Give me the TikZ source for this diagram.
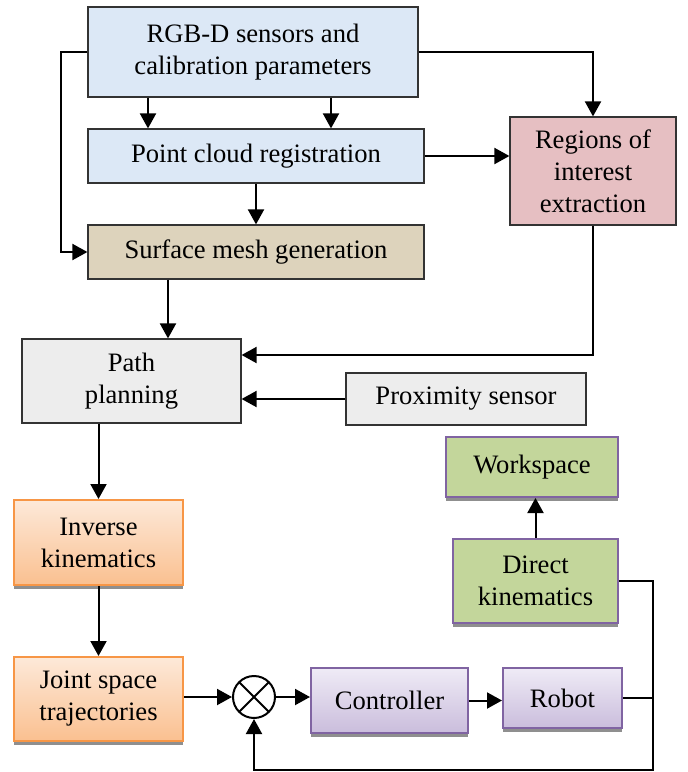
\documentclass[tikz,border=0pt]{standalone}
\usepackage{fontspec}
\setmainfont{Liberation Serif}
\usepackage{xcolor}
\usepackage{tikz}
\usetikzlibrary{arrows.meta,calc,shadows}
\definecolor{sensorblue}{HTML}{DCE8F6}
\definecolor{meshtan}{HTML}{DDD3BC}
\definecolor{roipink}{HTML}{E6BFC2}
\definecolor{plangray}{HTML}{EDEDED}
\definecolor{kinegreen}{HTML}{C3D69B}
\definecolor{kinepurple}{HTML}{8064A2}
\definecolor{ikorange}{HTML}{F79646}
\definecolor{iktop}{HTML}{FDE9D9}
\definecolor{ikbottom}{HTML}{FAC090}
\definecolor{ctrltop}{HTML}{EFEBF6}
\definecolor{ctrlbottom}{HTML}{CABDDC}

\begin{document}
\begin{tikzpicture}[
    x=0.5pt, y=-0.5pt,
    every node/.style={font=\fontsize{13.3}{16}\selectfont, align=center, inner sep=0pt},
    block/.style={rectangle, draw=black!80, line width=0.6pt},
    bluebox/.style={block, fill=sensorblue},
    tanbox/.style={block, fill=meshtan},
    pinkbox/.style={block, fill=roipink},
    graybox/.style={block, fill=plangray},
    shadowed/.style={drop shadow={shadow xshift=0pt, shadow yshift=-2pt, fill=black!55, opacity=0.8}},
    greenbox/.style={rectangle, draw=kinepurple, line width=1pt, fill=kinegreen, shadowed},
    orangebox/.style={rectangle, draw=ikorange, line width=1pt, top color=iktop, bottom color=ikbottom, shadowed},
    purplebox/.style={rectangle, draw=kinepurple, line width=1pt, top color=ctrltop, bottom color=ctrlbottom, shadowed},
    sumnode/.style={circle, draw, line width=1pt, minimum size=21pt, fill=white,
        path picture={\draw[line width=1pt] (path picture bounding box.north west) -- (path picture bounding box.south east)
            (path picture bounding box.north east) -- (path picture bounding box.south west);}},
    line/.style={line width=1pt},
    arr/.style={line, -{Triangle[length=7.5pt, width=8pt]}}
]
\useasboundingbox (0,0) rectangle (688,772);

\node[bluebox, minimum width=165pt, minimum height=45pt] (rgbd) at (253,52) {RGB-D sensors and\\calibration parameters};
\node[bluebox, minimum width=168pt, minimum height=27pt] (pcr) at (256,156) {Point cloud registration};
\node[tanbox, minimum width=168pt, minimum height=27pt] (mesh) at (256,252) {Surface mesh generation};
\node[pinkbox, minimum width=83pt, minimum height=54pt] (roi) at (593,171) {Regions of\\interest\\extraction};
\node[graybox, minimum width=109.5pt, minimum height=42pt] (path) at (131.5,381) {Path\\planning};
\node[graybox, minimum width=120pt, minimum height=26pt] (prox) at (466,399) {Proximity sensor};
\node[greenbox, minimum width=86pt, minimum height=30pt] (work) at (532,467) {Workspace};
\node[greenbox, minimum width=82.5pt, minimum height=42pt] (dk) at (535.5,581) {Direct\\kinematics};
\node[orangebox, minimum width=84.5pt, minimum height=42.5pt] (ik) at (98.5,542.5) {Inverse\\kinematics};
\node[orangebox, minimum width=84.5pt, minimum height=42pt] (jst) at (98.5,699) {Joint space\\trajectories};
\node[sumnode] (sum) at (254,697) {};
\node[purplebox, minimum width=78.5pt, minimum height=32.5pt] (ctrl) at (389.5,700.5) {Controller};
\node[purplebox, minimum width=59.5pt, minimum height=30pt] (robot) at (562.5,698) {Robot};
\coordinate (fbk) at (653,770);

\draw[arr] (148,0 |- rgbd.south) -- (148,0 |- pcr.north);
\draw[arr] (331,0 |- rgbd.south) -- (331,0 |- pcr.north);
\draw[arr] (pcr.south) -- (mesh.north);
\draw[arr] (rgbd.west) -- ++(-26,0) |- (mesh.west);
\draw[arr] (rgbd.east) -| (roi.north);
\draw[arr] (pcr.east) -- (pcr.east -| roi.west);
\draw[arr] (roi.south) |- ([yshift=13pt]path.east);
\draw[arr] (prox.west) -- (prox.west -| path.east);
\draw[arr] (168,0 |- mesh.south) -- (168,0 |- path.north);
\draw[arr] (ik.north |- path.south) -- (ik.north);
\draw[arr] (ik.south) -- (jst.north);
\draw[arr] (jst.east |- sum) -- (sum.west);
\draw[arr] (sum.east) -- (sum.east -| ctrl.west);
\draw[arr] (ctrl.east) -- (ctrl.east -| robot.west);
\draw[arr] (dk.north) -- (dk.north |- work.south);
\draw[line] (robot.east) -- (robot.east -| fbk);
\draw[arr] (dk.east) -| (fbk) -| (sum.south);
\end{tikzpicture}
\end{document}
